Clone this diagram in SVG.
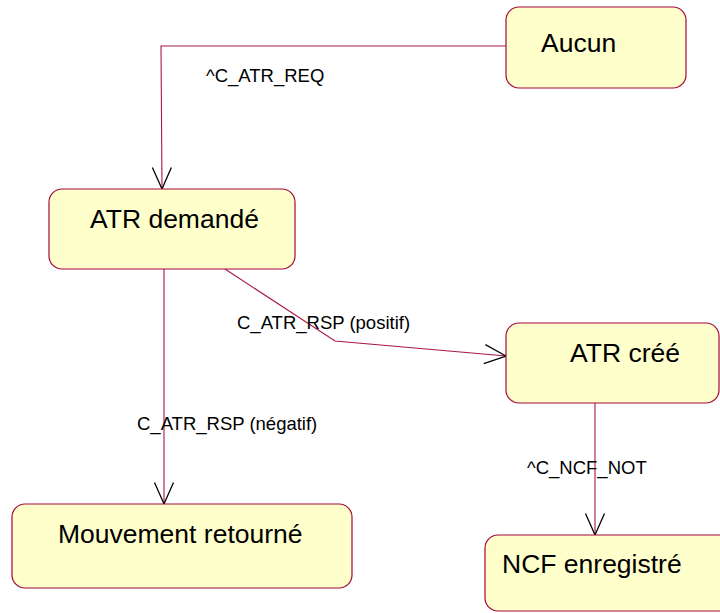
<svg xmlns="http://www.w3.org/2000/svg" width="720" height="613" viewBox="0 0 720 613">
<defs>
<style>
.node rect{fill:#ffffcc;stroke:#a3083c;stroke-width:1.2}
.node text{font-family:"Liberation Sans",Arial,sans-serif;font-size:26.5px;fill:#000}
.conn{fill:none;stroke:#a8164a;stroke-width:1.1}
.lbl{font-family:"Liberation Sans",Arial,sans-serif;font-size:18.5px;fill:#000}
</style>
<marker id="open" viewBox="-23 -11 25 22" refX="0" refY="0" markerWidth="25" markerHeight="22" markerUnits="userSpaceOnUse" orient="auto">
<path d="M-21.5,-9.5 L0,0 L-21.5,9.5" fill="none" stroke="#000" stroke-width="1.3"/>
</marker>
</defs>
<rect width="720" height="613" fill="#ffffff"/>
<g id="connectors">
<polyline class="conn" points="506,46 161,46 162,189" marker-end="url(#open)"/>
<polyline class="conn" points="164,269 164,504" marker-end="url(#open)"/>
<polyline class="conn" points="225,269 335,341 506,356" marker-end="url(#open)"/>
<polyline class="conn" points="595,403 595,535" marker-end="url(#open)"/>
</g>
<g id="labels">
<text class="lbl" x="206" y="82">^C_ATR_REQ</text>
<text class="lbl" x="237" y="329">C_ATR_RSP (positif)</text>
<text class="lbl" x="137" y="430">C_ATR_RSP (négatif)</text>
<text class="lbl" x="527" y="474">^C_NCF_NOT</text>
</g>
<g id="aucun" class="node">
<rect x="506" y="7" width="180" height="81" rx="13" ry="13"/>
<text x="541" y="52">Aucun</text>
</g>
<g id="atr-demande" class="node">
<rect x="49" y="189" width="246" height="80" rx="13" ry="13"/>
<text x="90" y="228">ATR demandé</text>
</g>
<g id="atr-cree" class="node">
<rect x="506" y="323" width="213" height="80" rx="13" ry="13"/>
<text x="570" y="362">ATR créé</text>
</g>
<g id="mouvement-retourne" class="node">
<rect x="12" y="504" width="340" height="84" rx="13" ry="13"/>
<text x="58" y="543">Mouvement retourné</text>
</g>
<g id="ncf-enregistre" class="node">
<rect x="485" y="535" width="250" height="76" rx="13" ry="13"/>
<text x="502" y="573">NCF enregistré</text>
</g>
</svg>
